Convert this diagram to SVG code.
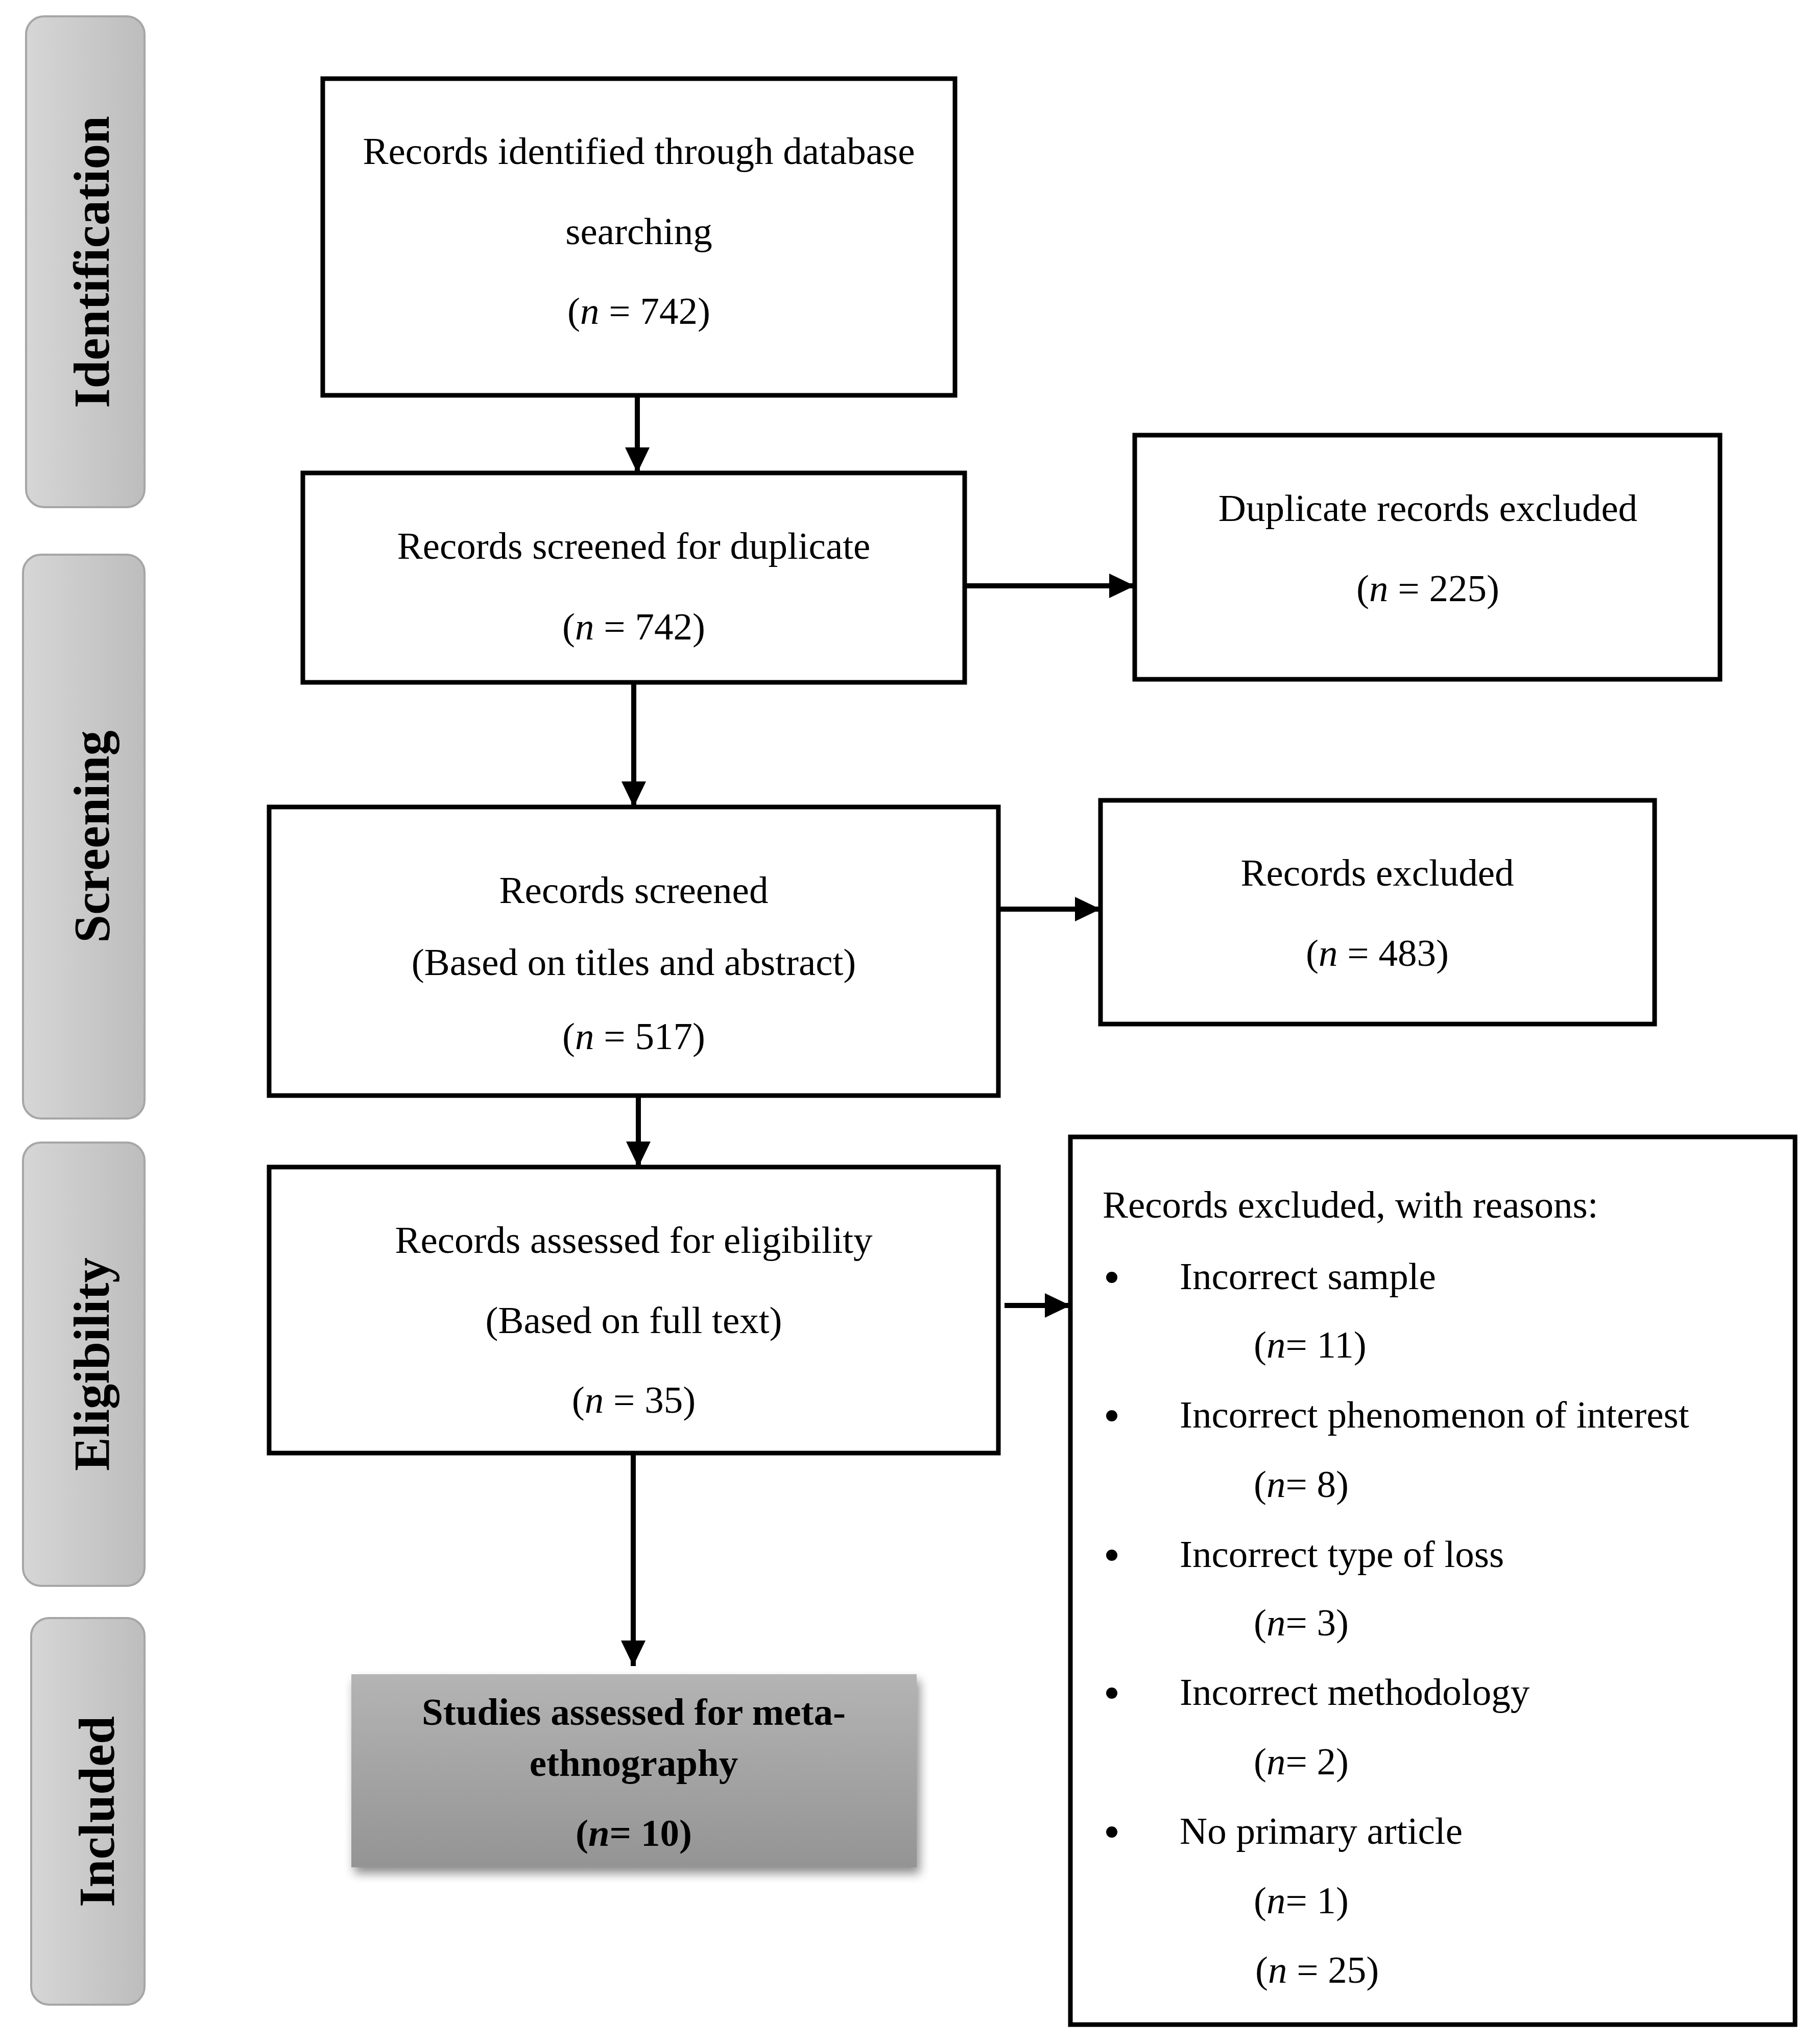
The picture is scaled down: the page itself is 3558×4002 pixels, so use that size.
<svg xmlns="http://www.w3.org/2000/svg" width="3558" height="4002" viewBox="0 0 3558 4002">
<style>
.box{fill:#ffffff;stroke:#000000;stroke-width:9}
.t{font-family:"Liberation Serif","Times New Roman",serif;font-size:75px;fill:#000000}
.c{text-anchor:middle}
.b{font-weight:bold}
.side{fill:url(#sideGrad);stroke:#a6a6a6;stroke-width:4}
.sideT{font-family:"Liberation Serif","Times New Roman",serif;font-size:99px;font-weight:bold;text-anchor:middle;fill:#000000}
.conn{stroke:#000000;stroke-width:10;fill:none;marker-end:url(#ah)}
.i{font-style:italic}
</style>
<defs>
<linearGradient id="sideGrad" x1="0" y1="0" x2="1" y2="0">
<stop offset="0" stop-color="#d6d6d6"/>
<stop offset="1" stop-color="#bdbdbd"/>
</linearGradient>
<linearGradient id="inclGrad" x1="0" y1="0" x2="0" y2="1">
<stop offset="0" stop-color="#b4b4b4"/>
<stop offset="1" stop-color="#949494"/>
</linearGradient>
<filter id="shadow" x="-10%" y="-20%" width="125%" height="150%">
<feGaussianBlur in="SourceAlpha" stdDeviation="10"/>
<feOffset dx="6" dy="12" result="ob"/>
<feComponentTransfer><feFuncA type="linear" slope="0.45"/></feComponentTransfer>
<feMerge><feMergeNode/><feMergeNode in="SourceGraphic"/></feMerge>
</filter>
<marker id="ah" viewBox="0 0 50 48" refX="50" refY="24" markerWidth="50" markerHeight="48" markerUnits="userSpaceOnUse" orient="auto">
<path d="M0,0 L50,24 L0,48 z" fill="#000000"/>
</marker>
</defs>
<rect width="3558" height="4002" fill="#ffffff"/>

<g id="stage-identification">
<rect class="side" x="51" y="32" width="232" height="961" rx="35" ry="35"/>
<text class="sideT" transform="translate(213,513) rotate(-90)">Identification</text>
</g>
<g id="stage-screening">
<rect class="side" x="45" y="1086" width="238" height="1104" rx="35" ry="35"/>
<text class="sideT" transform="translate(213,1638) rotate(-90)">Screening</text>
</g>
<g id="stage-eligibility">
<rect class="side" x="45" y="2237" width="238" height="868" rx="35" ry="35"/>
<text class="sideT" transform="translate(213,2671) rotate(-90)">Eligibility</text>
</g>
<g id="stage-included">
<rect class="side" x="61" y="3168" width="222" height="757" rx="35" ry="35"/>
<text class="sideT" transform="translate(223,3547) rotate(-90)">Included</text>
</g>

<g id="connectors">
<line class="conn" x1="1248" y1="774" x2="1248" y2="926"/>
<line class="conn" x1="1889" y1="1147" x2="2222" y2="1147"/>
<line class="conn" x1="1241" y1="1336" x2="1241" y2="1580"/>
<line class="conn" x1="1955" y1="1780" x2="2155" y2="1780"/>
<line class="conn" x1="1250" y1="2145" x2="1250" y2="2285"/>
<line class="conn" x1="1967" y1="2556" x2="2096" y2="2556"/>
<line class="conn" x1="1240" y1="2845" x2="1240" y2="3262"/>
</g>

<g id="node-identified">
<rect class="box" x="632" y="154" width="1238" height="620"/>
<text class="t c" x="1251" y="321">Records identified through database</text>
<text class="t c" x="1251" y="478">searching</text>
<text class="t c" x="1251" y="634">(<tspan class="i">n</tspan> = 742)</text>
</g>

<g id="node-duplicate-screen">
<rect class="box" x="593" y="926" width="1296" height="410"/>
<text class="t c" x="1241" y="1094">Records screened for duplicate</text>
<text class="t c" x="1241" y="1252">(<tspan class="i">n</tspan> = 742)</text>
</g>

<g id="node-duplicate-excluded">
<rect class="box" x="2222" y="852" width="1146" height="478"/>
<text class="t c" x="2796" y="1020">Duplicate records excluded</text>
<text class="t c" x="2796" y="1177">(<tspan class="i">n</tspan> = 225)</text>
</g>

<g id="node-screened">
<rect class="box" x="527" y="1580" width="1428" height="565"/>
<text class="t c" x="1241" y="1768">Records screened</text>
<text class="t c" x="1241" y="1909">(Based on titles and abstract)</text>
<text class="t c" x="1241" y="2054">(<tspan class="i">n</tspan> = 517)</text>
</g>

<g id="node-records-excluded">
<rect class="box" x="2155" y="1567" width="1085" height="438"/>
<text class="t c" x="2697" y="1734">Records excluded</text>
<text class="t c" x="2697" y="1891">(<tspan class="i">n</tspan> = 483)</text>
</g>

<g id="node-eligibility">
<rect class="box" x="527" y="2285" width="1428" height="560"/>
<text class="t c" x="1241" y="2453">Records assessed for eligibility</text>
<text class="t c" x="1241" y="2610">(Based on full text)</text>
<text class="t c" x="1241" y="2766">(<tspan class="i">n</tspan> = 35)</text>
</g>

<g id="node-excluded-reasons">
<rect class="box" x="2096" y="2226" width="1419" height="1738"/>
<text class="t" x="2159" y="2384">Records excluded, with reasons:</text>
<circle cx="2177" cy="2501" r="11" fill="#000000"/>
<text class="t" x="2310" y="2524">Incorrect sample</text>
<text class="t" x="2455" y="2658">(<tspan class="i">n</tspan>= 11)</text>
<circle cx="2177" cy="2772" r="11" fill="#000000"/>
<text class="t" x="2310" y="2795">Incorrect phenomenon of interest</text>
<text class="t" x="2455" y="2931">(<tspan class="i">n</tspan>= 8)</text>
<circle cx="2177" cy="3045" r="11" fill="#000000"/>
<text class="t" x="2310" y="3068">Incorrect type of loss</text>
<text class="t" x="2455" y="3202">(<tspan class="i">n</tspan>= 3)</text>
<circle cx="2177" cy="3315" r="11" fill="#000000"/>
<text class="t" x="2310" y="3338">Incorrect methodology</text>
<text class="t" x="2455" y="3474">(<tspan class="i">n</tspan>= 2)</text>
<circle cx="2177" cy="3587" r="11" fill="#000000"/>
<text class="t" x="2310" y="3610">No primary article</text>
<text class="t" x="2455" y="3746">(<tspan class="i">n</tspan>= 1)</text>
<text class="t" x="2458" y="3882">(<tspan class="i">n</tspan> = 25)</text>
</g>

<g id="node-included">
<rect x="688" y="3278" width="1107" height="378" fill="url(#inclGrad)" filter="url(#shadow)"/>
<text class="t c b" x="1241" y="3377">Studies assessed for meta-</text>
<text class="t c b" x="1241" y="3477">ethnography</text>
<text class="t c b" x="1241" y="3614">(<tspan class="i">n</tspan>= 10)</text>
</g>
</svg>
